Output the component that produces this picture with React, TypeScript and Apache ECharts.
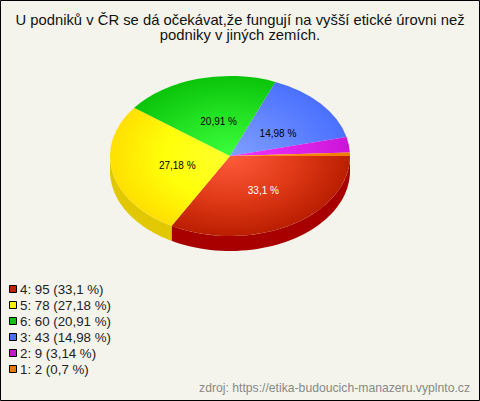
import React, { useEffect, useRef } from "react";
import * as echarts from "echarts";

const titleText = "U podniků v ČR se dá očekávat,že fungují na vyšší etické úrovni než\npodniky v jiných zemích.";
const sourceText = "zdroj: https://etika-budoucich-manazeru.vyplnto.cz";
const categories = ["4", "5", "6", "3", "2", "1"];
const values = [95, 78, 60, 43, 9, 2];
const percents = ["33,1", "27,18", "20,91", "14,98", "3,14", "0,7"];
const sliceInner = ["#ff5c3c", "#ffff2e", "#3cff3c", "#7f9fff", "#f035ff", "#ff9a20"];
const sliceMiddle = ["#e03a18", "#ffff0a", "#22e022", "#6385ff", "#de24ea", "#f88a10"];
const sliceOuter = ["#ba1e00", "#ffdf00", "#0ac40a", "#4a70ff", "#cc14d8", "#f07c00"];
const sideColors = ["#a80000", "#e2c800", "#0a9a0a", "#3050c0", "#a010a8", "#c06000"];
const legendColors = ["#c42000", "#ffee00", "#0cc40c", "#4a70ff", "#cc14cc", "#ee7700"];
const labelColors = ["#ffffff", "#000000", "#000000", "#000000", "", ""];

const CX = 230, CY = 156, RX = 120, RY = 80, DEPTH = 15;
const total = values.reduce((a, b) => a + b, 0);
const FONT = "Liberation Sans";

function renderSlice(params: any, api: any) {
  const i = params.dataIndex;
  const before = values.slice(0, i).reduce((a, b) => a + b, 0);
  const a0 = (before / total) * Math.PI * 2;
  const a1 = ((before + values[i]) / total) * Math.PI * 2;
  const children: any[] = [];

  // visible side wall (lower half only)
  const s0 = Math.min(a0, Math.PI), s1 = Math.min(a1, Math.PI);
  if (s1 > s0) {
    const top: number[][] = [], bottom: number[][] = [];
    const n = 48;
    for (let k = 0; k <= n; k++) {
      const t = s0 + ((s1 - s0) * k) / n;
      const x = CX + RX * Math.cos(t), y = CY + RY * Math.sin(t);
      top.push([x, y]);
      bottom.unshift([x, y + DEPTH]);
    }
    children.push({ type: "polygon", shape: { points: top.concat(bottom) }, style: { fill: sideColors[i] } });
  }

  children.push({
    type: "sector",
    x: CX,
    y: CY,
    scaleY: RY / RX,
    shape: { cx: 0, cy: 0, r: RX, r0: 0, startAngle: a0, endAngle: a1, clockwise: true },
    style: {
      fill: new echarts.graphic.RadialGradient(0, 0, RX, [
        { offset: 0, color: sliceInner[i] },
        { offset: 0.55, color: sliceMiddle[i] },
        { offset: 1, color: sliceOuter[i] },
      ], true),
    },
  });
  return { type: "group", children };
}

function renderLabel(params: any, api: any) {
  const i = params.dataIndex;
  if (!labelColors[i]) return { type: "group", children: [] };
  const before = values.slice(0, i).reduce((a, b) => a + b, 0);
  const mid = ((before + values[i] / 2) / total) * Math.PI * 2;
  return {
    type: "text",
    x: CX + 4 + 58 * Math.cos(mid),
    y: CY + 2 + 38 * Math.sin(mid),
    style: {
      text: percents[i] + " %",
      fill: labelColors[i],
      font: `10px "${FONT}"`,
      textAlign: "center",
      textVerticalAlign: "middle",
    },
  };
}

export default function App() {
  const ref = useRef<HTMLDivElement>(null);
  useEffect(() => {
    document.body.style.margin = "0";
    const chart = echarts.init(ref.current!, null, { renderer: "svg" });
    const legendItems: any[] = [];
    categories.forEach((c, i) => {
      const y = 285.5 + i * 16;
      legendItems.push({
        type: "rect",
        shape: { x: 9.5, y, width: 7, height: 7 },
        style: { fill: legendColors[i], stroke: "#000", lineWidth: 1 },
      });
      legendItems.push({
        type: "text",
        x: 20,
        y: y + 4,
        style: {
          text: `${c}: ${values[i]} (${percents[i]} %)`,
          fill: "#222",
          font: `13.3px "${FONT}"`,
          textAlign: "left",
          textVerticalAlign: "middle",
        },
      });
    });
    chart.setOption({
      animation: false,
      backgroundColor: "#f5f4ec",
      graphic: [
        { type: "rect", shape: { x: 0.5, y: 0.5, width: 479, height: 400 }, style: { fill: "none", stroke: "#000", lineWidth: 1 }, silent: true },
        {
          type: "text",
          x: 240,
          y: 27.5,
          style: {
            text: titleText,
            fill: "#111",
            font: `14.8px "${FONT}"`,
            lineHeight: 15.5,
            textAlign: "center",
            textVerticalAlign: "middle",
          },
        },
        ...legendItems,
        {
          type: "text",
          x: 470,
          y: 388,
          style: { text: sourceText, fill: "#888", font: `12.2px "${FONT}"`, textAlign: "right", textVerticalAlign: "middle" },
        },
      ],
      series: [
        { type: "custom", coordinateSystem: "none", renderItem: renderSlice, data: values, silent: true, clip: false },
        { type: "custom", coordinateSystem: "none", renderItem: renderLabel, data: values, silent: true, clip: false },
      ],
    });
    return () => chart.dispose();
  }, []);
  return <div ref={ref} style={{ width: 480, height: 401 }} />;
}
